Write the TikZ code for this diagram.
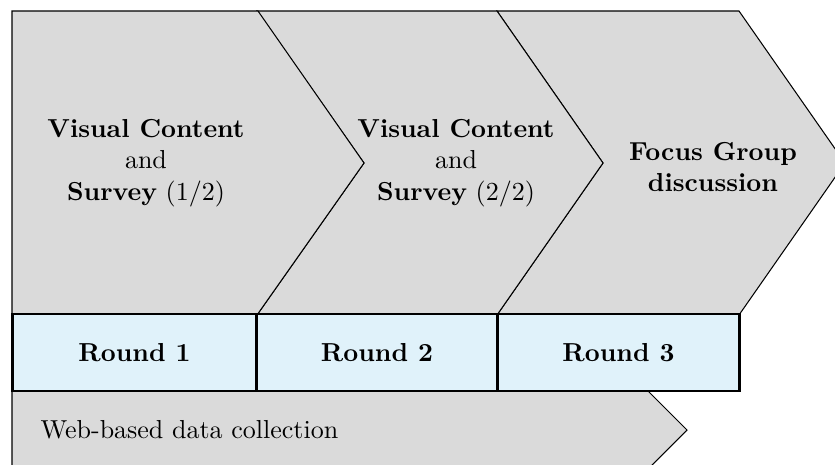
\documentclass[tikz,border=0pt]{standalone}
\definecolor{chevgray}{RGB}{218,218,218}
\definecolor{roundblue}{RGB}{224,242,250}
\tikzset{
  chevron/.style={fill=chevgray, draw=black, line width=0.4pt, line join=miter},
  roundbox/.style={draw=black, fill=roundblue, line width=1pt, font=\bfseries,
    minimum height=29.6pt, inner sep=0pt, outer sep=0pt},
  phase/.style={align=center, inner sep=0pt}
}
\begin{document}
\begin{tikzpicture}[x=0.3846pt, y=-0.3846pt]
\useasboundingbox (0,0) rectangle (835,464);
\clip (0,0) rectangle (835,464);

% phase chevrons, drawn back to front so each tip overlaps the next one
\draw[chevron] (497,11) -- (739,11) -- (845,163) -- (739,315) -- (497,315) -- (603,163) -- cycle;
\draw[chevron] (257,11) -- (497,11) -- (603,163) -- (497,315) -- (257,315) -- (364,163) -- cycle;
\draw[chevron] (12,11) -- (258,11) -- (364,163) -- (257,315) -- (12,315) -- cycle;

% lower arrow for the collection mode
\draw[chevron] (12,391) -- (648,391) -- (687,430) -- (648,469) -- (12,469) -- cycle;

% phase labels
\node[phase] (p1) at (146,163) {\textbf{Visual Content}\\and\\\textbf{Survey} (1/2)};
\node[phase] (p2) at (456,163) {\textbf{Visual Content}\\and\\\textbf{Survey} (2/2)};
\node[phase, font=\bfseries] (p3) at (713,167) {Focus Group\\discussion};

% rounds
\node[roundbox, minimum width=93.7pt] (r1) at (134.5,352.5) {Round 1};
\node[roundbox, minimum width=92.3pt] (r2) at (377,352.5) {Round 2};
\node[roundbox, minimum width=93.1pt] (r3) at (618.5,352.5) {Round 3};

\node[anchor=west, inner sep=0pt] (web) at (40,430) {Web-based data collection};
\end{tikzpicture}
\end{document}
